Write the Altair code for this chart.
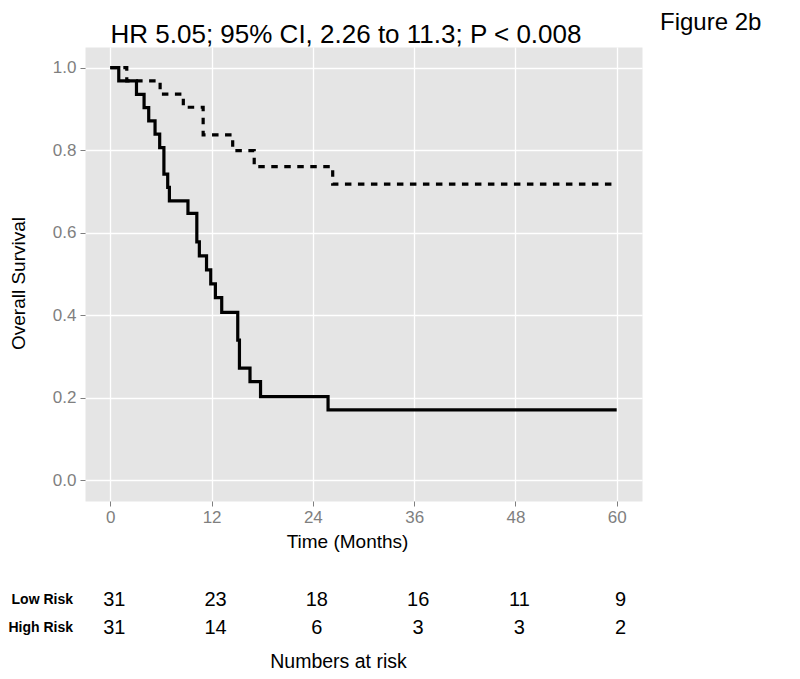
import altair as alt
import pandas as pd

# ---- data ----
high_t = [0, 1.0, 3.1, 4.0, 4.55, 5.3, 5.85, 6.35, 6.8, 7.0, 9.2, 10.25, 10.55,
          11.4, 11.9, 12.45, 13.2, 15.1, 15.3, 16.55, 17.8, 25.8, 60]
high_s = [1.0, 0.968, 0.935, 0.903, 0.871, 0.839, 0.806, 0.742, 0.710, 0.677,
          0.647, 0.578, 0.544, 0.510, 0.476, 0.443, 0.407, 0.340, 0.272, 0.239,
          0.203, 0.171, 0.171]

low_t = [0, 1.95, 5.9, 8.65, 11.0, 14.5, 17.05, 26.35, 60]
low_s = [1.0, 0.968, 0.936, 0.904, 0.837, 0.799, 0.760, 0.718, 0.718]

risk_times = [0, 12, 24, 36, 48, 60]
low_risk_n = [31, 23, 18, 16, 11, 9]
high_risk_n = [31, 14, 6, 3, 3, 2]

x_ticks = [0, 12, 24, 36, 48, 60]
y_ticks = [0.0, 0.2, 0.4, 0.6, 0.8, 1.0]

title_text = "HR 5.05; 95% CI, 2.26 to 11.3; P < 0.008"
figure_label = "Figure 2b"

FONT = "Liberation Sans, Arial, Helvetica, sans-serif"

high_df = pd.DataFrame({"t": high_t, "s": high_s})
low_df = pd.DataFrame({"t": low_t, "s": low_s})
risk_low_df = pd.DataFrame({"t": risk_times, "n": low_risk_n})
risk_high_df = pd.DataFrame({"t": risk_times, "n": high_risk_n})
one = pd.DataFrame({"k": [0]})

W, H = 557, 454

xscale = alt.Scale(domain=[-3, 63], nice=False, zero=False)
yscale = alt.Scale(domain=[-0.05, 1.05], nice=False, zero=False)

xaxis = alt.Axis(values=x_ticks, title="Time (Months)", grid=True, gridColor="white",
                 gridWidth=1.3, domain=False, tickColor="#7f7f7f", tickSize=5,
                 tickWidth=1, labelColor="#7f7f7f", labelFontSize=17, labelFont=FONT,
                 labelPadding=3, titleFont=FONT, titleFontSize=19, titleFontWeight="normal",
                 titleColor="black", titleX=262, titleY=40, titleBaseline="middle",
                 titleAlign="center")
yaxis = alt.Axis(values=y_ticks, format=".1f", title="Overall Survival", grid=True,
                 gridColor="white", gridWidth=1.3, domain=False, tickColor="#7f7f7f",
                 tickSize=5, tickWidth=1, labelColor="#7f7f7f", labelFontSize=17,
                 labelFont=FONT, labelPadding=4, titleFont=FONT, titleFontSize=19,
                 titleFontWeight="normal", titleColor="black", titleX=-67, titleY=236,
                 titleBaseline="middle", titleAlign="center", titleAngle=270)

low_line = alt.Chart(low_df).mark_line(
    interpolate="step-after", color="black", strokeWidth=3.2, strokeDash=[6.5, 6.5]
).encode(
    x=alt.X("t:Q", scale=xscale, axis=xaxis),
    y=alt.Y("s:Q", scale=yscale, axis=yaxis),
)

high_line = alt.Chart(high_df).mark_line(
    interpolate="step-after", color="black", strokeWidth=3.2
).encode(
    x=alt.X("t:Q", scale=xscale),
    y=alt.Y("s:Q", scale=yscale),
)

low_nums = alt.Chart(risk_low_df).mark_text(
    font=FONT, fontSize=20, color="black", align="center", baseline="middle", dx=4
).encode(x=alt.X("t:Q", scale=xscale), y=alt.value(553), text="n:Q")

high_nums = alt.Chart(risk_high_df).mark_text(
    font=FONT, fontSize=20, color="black", align="center", baseline="middle", dx=4
).encode(x=alt.X("t:Q", scale=xscale), y=alt.value(581), text="n:Q")

def label(txt, x, y, size, align="center", baseline="middle", weight="normal"):
    return alt.Chart(one).mark_text(
        font=FONT, fontSize=size, color="black", align=align, baseline=baseline,
        fontWeight=weight
    ).encode(x=alt.value(x), y=alt.value(y), text=alt.value(txt))

title_mark = label(title_text, 261, -4, 26, baseline="alphabetic")
fig_mark = label(figure_label, 575, -17, 24, align="left", baseline="alphabetic")
low_lab = label("Low Risk", -12, 553, 14, align="right", weight="bold")
high_lab = label("High Risk", -12, 581, 14, align="right", weight="bold")
nar_lab = label("Numbers at risk", 253.5, 615, 19.5)

chart = alt.layer(
    low_line, high_line, low_nums, high_nums,
    title_mark, fig_mark, low_lab, high_lab, nar_lab
).properties(
    width=W, height=H,
    autosize=alt.AutoSizeParams(type="none"),
    padding={"left": 77, "top": 39, "right": 150, "bottom": 170},
).configure(
    background="white",
    view=alt.ViewConfig(fill="#E5E5E5", stroke="transparent"),
)

chart.save("out.html", embed_options={"renderer": "svg", "actions": False})
